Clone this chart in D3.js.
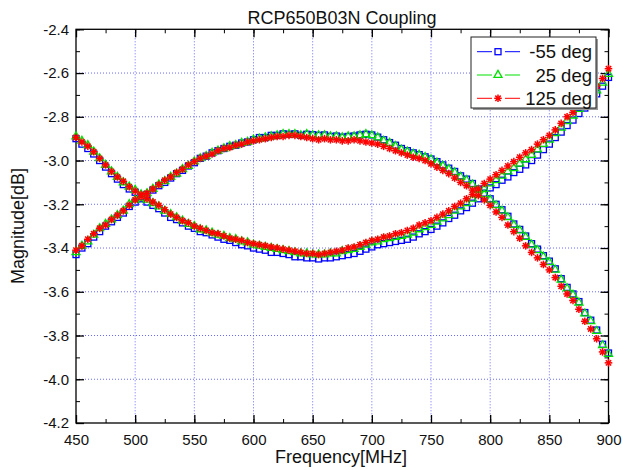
<!DOCTYPE html>
<html><head><meta charset="utf-8">
<script src="https://cdn.jsdelivr.net/npm/d3@7/dist/d3.min.js"></script>
<style>body{margin:0;background:#fff}svg{display:block;font-family:Arial,"Liberation Sans",sans-serif}</style>
</head><body>
<svg id="c" width="622" height="470"></svg>
<script>
const title = "RCP650B03N Coupling";
const xLabel = "Frequency[MHz]";
const yLabel = "Magnitude[dB]";
const freq = d3.range(450, 901, 5);
const xTicks = [450, 500, 550, 600, 650, 700, 750, 800, 850, 900];
const yTicks = [-2.4, -2.6, -2.8, -3.0, -3.2, -3.4, -3.6, -3.8, -4.0, -4.2];
const seriesNames = ["-55 deg", "25 deg", "125 deg"];
const seriesColors = ["#0000ff", "#00e000", "#ff0000"];

// -55 deg
const arcM55 = [-3.43,-3.40,-3.38,-3.35,-3.325,-3.30,-3.28,-3.26,-3.24,-3.21,-3.19,-3.175,-3.155,-3.135,-3.115,-3.10,-3.08,-3.06,-3.045,-3.025,-3.01,-2.99,-2.98,-2.965,-2.955,-2.945,-2.935,-2.93,-2.92,-2.915,-2.905,-2.895,-2.895,-2.885,-2.885,-2.878,-2.88,-2.878,-2.885,-2.88,-2.882,-2.885,-2.883,-2.89,-2.888,-2.893,-2.89,-2.888,-2.883,-2.88,-2.883,-2.893,-2.905,-2.918,-2.93,-2.945,-2.955,-2.965,-2.973,-2.983,-2.993,-3.005,-3.02,-3.035,-3.05,-3.07,-3.085,-3.105,-3.13,-3.15,-3.175,-3.20,-3.225,-3.255,-3.29,-3.315,-3.345,-3.38,-3.405,-3.435,-3.46,-3.495,-3.54,-3.58,-3.61,-3.645,-3.695,-3.73,-3.775,-3.84,-3.88];
const bowlM55 = [-2.90,-2.925,-2.945,-2.97,-3.00,-3.03,-3.06,-3.085,-3.11,-3.13,-3.145,-3.165,-3.19,-3.205,-3.22,-3.24,-3.26,-3.27,-3.285,-3.30,-3.31,-3.325,-3.33,-3.34,-3.35,-3.36,-3.365,-3.375,-3.385,-3.39,-3.40,-3.405,-3.41,-3.42,-3.42,-3.425,-3.43,-3.44,-3.44,-3.445,-3.445,-3.45,-3.445,-3.445,-3.44,-3.435,-3.43,-3.425,-3.415,-3.405,-3.395,-3.385,-3.38,-3.375,-3.37,-3.365,-3.36,-3.35,-3.335,-3.325,-3.315,-3.30,-3.285,-3.265,-3.25,-3.23,-3.215,-3.195,-3.175,-3.15,-3.125,-3.11,-3.09,-3.075,-3.055,-3.04,-3.02,-3.00,-2.975,-2.95,-2.925,-2.895,-2.87,-2.84,-2.815,-2.785,-2.76,-2.725,-2.695,-2.66,-2.62];
// 25 deg
const arc25 = [-3.42,-3.39,-3.37,-3.34,-3.31,-3.29,-3.27,-3.25,-3.23,-3.20,-3.18,-3.17,-3.15,-3.13,-3.11,-3.095,-3.075,-3.06,-3.04,-3.025,-3.005,-2.99,-2.98,-2.965,-2.955,-2.945,-2.935,-2.93,-2.92,-2.915,-2.905,-2.90,-2.895,-2.89,-2.885,-2.88,-2.88,-2.88,-2.885,-2.88,-2.885,-2.885,-2.885,-2.89,-2.89,-2.895,-2.89,-2.89,-2.885,-2.88,-2.885,-2.895,-2.91,-2.92,-2.935,-2.95,-2.96,-2.97,-2.975,-2.985,-2.995,-3.01,-3.025,-3.04,-3.055,-3.075,-3.09,-3.11,-3.135,-3.155,-3.18,-3.205,-3.23,-3.26,-3.295,-3.32,-3.35,-3.385,-3.41,-3.44,-3.465,-3.50,-3.545,-3.585,-3.615,-3.65,-3.70,-3.735,-3.78,-3.845,-3.885];
const bowl25 = [-2.89,-2.91,-2.93,-2.96,-2.99,-3.02,-3.05,-3.075,-3.10,-3.12,-3.135,-3.155,-3.18,-3.195,-3.21,-3.23,-3.245,-3.26,-3.275,-3.29,-3.30,-3.315,-3.32,-3.33,-3.34,-3.345,-3.355,-3.36,-3.37,-3.375,-3.385,-3.39,-3.395,-3.40,-3.405,-3.41,-3.415,-3.42,-3.425,-3.425,-3.43,-3.43,-3.43,-3.425,-3.425,-3.415,-3.41,-3.405,-3.395,-3.385,-3.375,-3.37,-3.36,-3.355,-3.35,-3.345,-3.34,-3.33,-3.315,-3.305,-3.295,-3.28,-3.265,-3.25,-3.23,-3.21,-3.195,-3.175,-3.155,-3.13,-3.105,-3.09,-3.07,-3.05,-3.035,-3.015,-2.995,-2.975,-2.95,-2.925,-2.905,-2.875,-2.85,-2.82,-2.795,-2.765,-2.74,-2.705,-2.68,-2.645,-2.605];
// 125 deg
const arc125 = [-3.41,-3.39,-3.36,-3.335,-3.31,-3.295,-3.27,-3.25,-3.23,-3.205,-3.18,-3.165,-3.15,-3.13,-3.11,-3.09,-3.075,-3.055,-3.04,-3.02,-3.005,-2.99,-2.98,-2.97,-2.955,-2.945,-2.94,-2.93,-2.925,-2.915,-2.91,-2.905,-2.90,-2.895,-2.89,-2.89,-2.885,-2.885,-2.89,-2.895,-2.90,-2.905,-2.90,-2.905,-2.905,-2.91,-2.91,-2.905,-2.91,-2.915,-2.92,-2.925,-2.935,-2.945,-2.955,-2.965,-2.975,-2.985,-2.99,-3.00,-3.015,-3.03,-3.045,-3.06,-3.08,-3.10,-3.115,-3.135,-3.16,-3.18,-3.205,-3.235,-3.26,-3.295,-3.325,-3.355,-3.39,-3.42,-3.445,-3.475,-3.50,-3.535,-3.575,-3.61,-3.64,-3.68,-3.735,-3.77,-3.815,-3.875,-3.925];
const bowl125 = [-2.895,-2.915,-2.935,-2.96,-2.99,-3.02,-3.05,-3.075,-3.095,-3.12,-3.14,-3.155,-3.175,-3.19,-3.205,-3.225,-3.245,-3.26,-3.275,-3.285,-3.30,-3.31,-3.32,-3.33,-3.335,-3.345,-3.355,-3.36,-3.365,-3.375,-3.38,-3.385,-3.39,-3.395,-3.40,-3.405,-3.41,-3.415,-3.42,-3.425,-3.425,-3.43,-3.425,-3.42,-3.415,-3.41,-3.40,-3.395,-3.385,-3.375,-3.365,-3.36,-3.35,-3.345,-3.335,-3.33,-3.32,-3.31,-3.295,-3.285,-3.275,-3.26,-3.245,-3.23,-3.21,-3.195,-3.175,-3.155,-3.13,-3.105,-3.085,-3.065,-3.045,-3.025,-3.005,-2.985,-2.965,-2.95,-2.925,-2.905,-2.885,-2.86,-2.83,-2.80,-2.78,-2.75,-2.72,-2.685,-2.66,-2.625,-2.58];

const series = [
  {name: seriesNames[0], color: seriesColors[0], shape: "square", curves: [arcM55, bowlM55]},
  {name: seriesNames[1], color: seriesColors[1], shape: "triangle", curves: [arc25, bowl25]},
  {name: seriesNames[2], color: seriesColors[2], shape: "star", curves: [arc125, bowl125]}
];

const svg = d3.select("#c");
const L = 76, R = 608.5, T = 29.3, B = 423;
const x = d3.scaleLinear().domain([450, 900]).range([L, R]);
const y = d3.scaleLinear().domain([-4.2, -2.4]).range([B, T]);

// grid
const g = svg.append("g");
g.selectAll(".gx").data(xTicks.slice(1, -1)).join("line")
  .attr("x1", d => x(d)).attr("x2", d => x(d)).attr("y1", T).attr("y2", B)
  .attr("stroke", "#5050ff").attr("stroke-dasharray", "1,2").attr("stroke-width", 1).attr("opacity", 0.85);
g.selectAll(".gy").data(yTicks.slice(1, -1)).join("line")
  .attr("y1", d => y(d)).attr("y2", d => y(d)).attr("x1", L).attr("x2", R)
  .attr("stroke", "#5050ff").attr("stroke-dasharray", "1,2").attr("stroke-width", 1).attr("opacity", 0.85);

// axes with inward ticks on all sides
const xMinor = d3.range(0, 19).map(i => 450 + i * 25);
const yMinor = d3.range(0, 19).map(i => -4.2 + i * 0.1);
function axisSet(axis, tr, major, minor, isX, showLabels) {
  const gm = svg.append("g").attr("transform", tr)
    .call(axis.tickValues(minor).tickSize(-4).tickFormat(""));
  gm.select(".domain").remove();
  gm.selectAll("line").attr("stroke", "#000").attr("stroke-width", 1);
  const ga = svg.append("g").attr("transform", tr)
    .call(axis.tickValues(major).tickSize(-8).tickFormat(showLabels ? (isX ? d3.format("d") : d3.format(".1f")) : ""));
  ga.select(".domain").remove();
  ga.selectAll("line").attr("stroke", "#000").attr("stroke-width", 1.3);
  ga.selectAll("text").attr("font-size", 15).attr("font-family", "Arial, 'Liberation Sans', sans-serif").attr("fill", "#111");
  return ga;
}
const bx = axisSet(d3.axisBottom(x), `translate(0,${B})`, xTicks, xMinor, true, true);
bx.selectAll("text").attr("dy", null).attr("y", 22);
axisSet(d3.axisTop(x), `translate(0,${T})`, xTicks, xMinor, true, false);
const ly = axisSet(d3.axisLeft(y), `translate(${L},0)`, yTicks, yMinor, false, true);
ly.selectAll("text").attr("x", -7).text(d => d3.format(".1f")(d).replace("−", "-"));
axisSet(d3.axisRight(y), `translate(${R},0)`, yTicks, yMinor, false, false);
bx.selectAll("text").text(d => d);

svg.append("rect").attr("x", L).attr("y", T).attr("width", R - L).attr("height", B - T)
  .attr("fill", "none").attr("stroke", "#000").attr("stroke-width", 1.3);

// markers
function drawMarker(sel, shape, color) {
  if (shape === "square") {
    sel.append("rect").attr("x", -3).attr("y", -3).attr("width", 6).attr("height", 6)
      .attr("fill", "none").attr("stroke", color).attr("stroke-width", 1.3);
  } else if (shape === "triangle") {
    sel.append("path").attr("d", d3.symbol(d3.symbolTriangle, 28)())
      .attr("fill", "none").attr("stroke", color).attr("stroke-width", 1.3);
  } else {
    const r = 3.8;
    const a = [0, 45, 90, 135];
    a.forEach(deg => {
      const rad = deg * Math.PI / 180;
      sel.append("line").attr("x1", -r * Math.cos(rad)).attr("y1", -r * Math.sin(rad))
        .attr("x2", r * Math.cos(rad)).attr("y2", r * Math.sin(rad))
        .attr("stroke", color).attr("stroke-width", 1.5);
    });
    sel.append("circle").attr("r", 1.7).attr("fill", color);
  }
}

series.forEach(s => {
  s.curves.forEach(vals => {
    const pts = svg.append("g").selectAll("g").data(freq.map((f, i) => [f, vals[i]])).join("g")
      .attr("transform", d => `translate(${x(d[0])},${y(d[1])})`);
    pts.each(function() { drawMarker(d3.select(this), s.shape, s.color); });
  });
});

// legend
const lg = svg.append("g");
lg.append("rect").attr("x", 473).attr("y", 39).attr("width", 125).attr("height", 71).attr("fill", "#999");
lg.append("rect").attr("x", 471).attr("y", 37).attr("width", 125).attr("height", 71)
  .attr("fill", "#fff").attr("stroke", "#222").attr("stroke-width", 1);
series.forEach((s, i) => {
  const cy = 51.7 + i * 23.3;
  lg.append("line").attr("x1", 477).attr("x2", 492).attr("y1", cy).attr("y2", cy).attr("stroke", s.color).attr("stroke-width", 1);
  lg.append("line").attr("x1", 505).attr("x2", 520).attr("y1", cy).attr("y2", cy).attr("stroke", s.color).attr("stroke-width", 1);
  const m = lg.append("g").attr("transform", `translate(498,${cy})`);
  drawMarker(m, s.shape, s.color);
  lg.append("text").attr("x", 592).attr("y", cy + 6.5).attr("text-anchor", "end")
    .attr("font-size", 18.5).attr("fill", "#111").text(s.name);
});

// titles
svg.append("text").attr("x", 342).attr("y", 24).attr("text-anchor", "middle")
  .attr("font-size", 18).attr("fill", "#111").text(title);
svg.append("text").attr("x", 341).attr("y", 463).attr("text-anchor", "middle")
  .attr("font-size", 18).attr("fill", "#111").text(xLabel);
svg.append("text").attr("transform", "translate(24,226) rotate(-90)").attr("text-anchor", "middle")
  .attr("font-size", 18).attr("fill", "#111").text(yLabel);
</script>
</body></html>
